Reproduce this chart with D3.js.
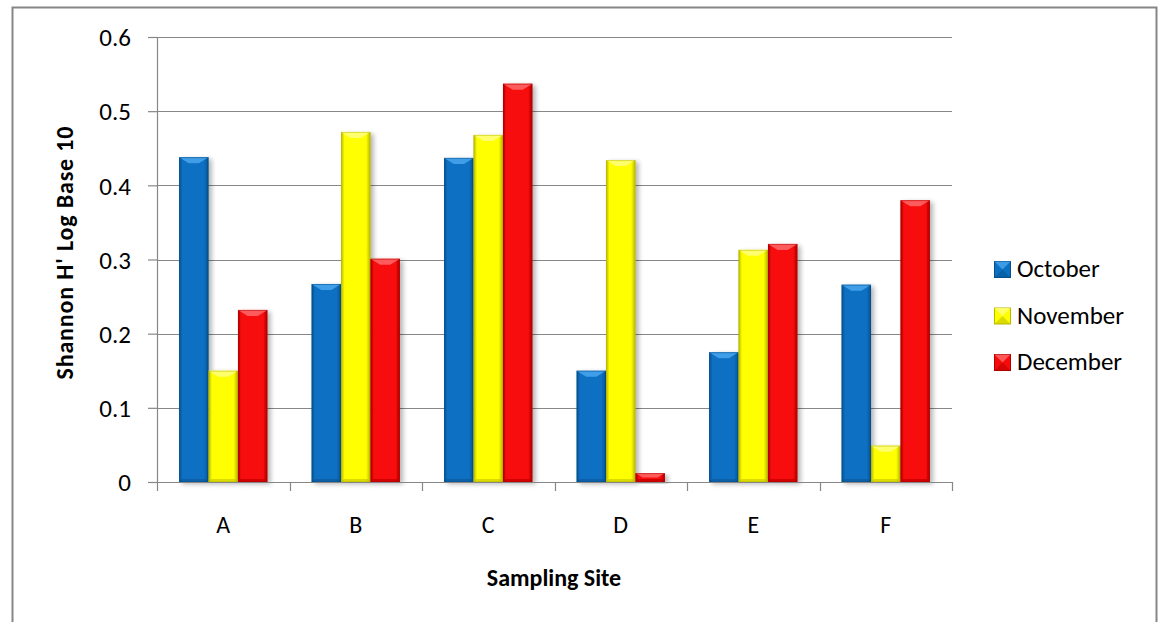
<!DOCTYPE html>
<html>
<head>
<meta charset="utf-8">
<script src="https://cdn.jsdelivr.net/npm/d3@7"></script>
<style>
  html, body { margin: 0; padding: 0; background: #fff; }
  svg { display: block; font-family: Carlito, Calibri, Lato, "Open Sans", sans-serif; }
</style>
</head>
<body>
<svg id="chart" width="1163" height="622"></svg>
<script>
// Shannon diversity (log base 10) per sampling site and month
const sites = ["A", "B", "C", "D", "E", "F"];
const months = ["October", "November", "December"];
const october  = [0.438, 0.267, 0.437, 0.150, 0.175, 0.266];
const november = [0.150, 0.472, 0.468, 0.434, 0.313, 0.049];
const december = [0.232, 0.301, 0.537, 0.012, 0.321, 0.380];
const yTicks = [0, 0.1, 0.2, 0.3, 0.4, 0.5, 0.6];
const colors = ["#0A70C2", "#FFFF00", "#F70A0A"];
const darks  = ["#064f8c", "#b8b800", "#b00000"];
const lights = ["#4aa6ee", "#ffff80", "#ff6a6a"];

const series = [october, november, december];
const FONT = "Carlito, Calibri, Lato, sans-serif";

const svg = d3.select("#chart");
const margin = { left: 157, right: 211, top: 37, bottom: 140 };
const W = 1163, H = 622;
const plotW = W - margin.left - margin.right;
const plotH = H - margin.top - margin.bottom;

// outer chart frame (left, top, right edges)
svg.append("path")
  .attr("d", `M12.5,622 L12.5,7.5 L1156.5,7.5 L1156.5,622`)
  .attr("fill", "none").attr("stroke", "#868686").attr("stroke-width", 2);

const defs = svg.append("defs");
colors.forEach((c, i) => {
  const g = defs.append("linearGradient").attr("id", "grad" + i)
    .attr("x1", "0").attr("x2", "1").attr("y1", "0").attr("y2", "0");
  g.append("stop").attr("offset", "0").attr("stop-color", darks[i]);
  g.append("stop").attr("offset", "0.12").attr("stop-color", c);
  g.append("stop").attr("offset", "0.85").attr("stop-color", c);
  g.append("stop").attr("offset", "1").attr("stop-color", darks[i]);
});
const shadow = defs.append("filter").attr("id", "shadow")
  .attr("x", "-30%").attr("y", "-10%").attr("width", "170%").attr("height", "130%");
shadow.append("feGaussianBlur").attr("in", "SourceAlpha").attr("stdDeviation", 2.5);
shadow.append("feOffset").attr("dx", 3).attr("dy", 2).attr("result", "b");
shadow.append("feComponentTransfer").append("feFuncA").attr("type", "linear").attr("slope", 0.3);
const merge = shadow.append("feMerge");
merge.append("feMergeNode");
merge.append("feMergeNode").attr("in", "SourceGraphic");

const g = svg.append("g").attr("transform", `translate(${margin.left},${margin.top})`);

const x0 = d3.scaleBand().domain(sites).range([0, plotW]).paddingInner(0).paddingOuter(0);
const bw = x0.bandwidth() / 4.5;
const x1 = d3.scaleBand().domain(months).range([0.75 * bw, x0.bandwidth() - 0.75 * bw]).padding(0);
const y = d3.scaleLinear().domain([0, 0.6]).range([plotH, 0]);

// horizontal gridlines
g.append("g").selectAll("line").data(yTicks.slice(1)).join("line")
  .attr("x1", 0).attr("x2", plotW)
  .attr("y1", d => Math.round(y(d)) + 0.5).attr("y2", d => Math.round(y(d)) + 0.5)
  .attr("stroke", "#878787").attr("stroke-width", 1.2);

// y axis
const yAxis = g.append("g").call(d3.axisLeft(y).tickValues(yTicks).tickFormat(d3.format("~g")).tickSize(9).tickPadding(17));
yAxis.select(".domain").attr("stroke", "#878787").attr("stroke-width", 1.2).attr("d", `M0.5,${plotH}V0`);
yAxis.selectAll(".tick line").attr("stroke", "#878787").attr("stroke-width", 1.2);
yAxis.selectAll(".tick text").attr("font-size", 25).attr("fill", "#000")
  .attr("font-family", FONT).attr("dy", "0.35em");

// bars
const groups = g.append("g").selectAll("g").data(sites).join("g")
  .attr("transform", d => `translate(${x0(d)},0)`);
groups.each(function (site, si) {
  const grp = d3.select(this);
  months.forEach((m, mi) => {
    const v = series[mi][si];
    const bx = x1(m), bwid = x1.bandwidth(), by = y(v), bh = plotH - y(v);
    const bar = grp.append("g").attr("filter", "url(#shadow)");
    bar.append("rect").attr("x", bx).attr("y", by).attr("width", bwid).attr("height", bh)
      .attr("fill", `url(#grad${mi})`);
    const bev = Math.min(6, bh / 2);
    // bevelled top edge
    bar.append("path")
      .attr("d", `M${bx},${by} L${bx + bwid},${by} L${bx + bwid - bev * 1.6},${by + bev} L${bx + bev * 1.6},${by + bev} Z`)
      .attr("fill", lights[mi]).attr("opacity", 0.85);
    // bevelled bottom edge
    bar.append("path")
      .attr("d", `M${bx},${by + bh} L${bx + bwid},${by + bh} L${bx + bwid - 3},${by + bh - 3} L${bx + 3},${by + bh - 3} Z`)
      .attr("fill", darks[mi]).attr("opacity", 0.5);
    bar.append("rect").attr("x", bx + 0.5).attr("y", by + 0.5).attr("width", bwid - 1).attr("height", Math.max(0, bh - 1))
      .attr("fill", "none").attr("stroke", darks[mi]).attr("stroke-opacity", 0.5).attr("stroke-width", 1);
  });
});

// x axis
const xAxisG = g.append("g").attr("transform", `translate(0,${plotH})`);
xAxisG.append("line").attr("x1", 0).attr("x2", plotW).attr("y1", 0.5).attr("y2", 0.5)
  .attr("stroke", "#878787").attr("stroke-width", 1.2);
xAxisG.selectAll("line.tk").data(d3.range(sites.length + 1)).join("line").attr("class", "tk")
  .attr("x1", i => Math.round(i * x0.step()) + 0.5).attr("x2", i => Math.round(i * x0.step()) + 0.5)
  .attr("y1", 0).attr("y2", 9).attr("stroke", "#878787").attr("stroke-width", 1.2);
xAxisG.selectAll("text").data(sites).join("text")
  .attr("x", d => x0(d) + x0.bandwidth() / 2).attr("y", 51)
  .attr("text-anchor", "middle").attr("font-size", 24).attr("fill", "#000")
  .text(d => d);

// axis titles
svg.append("text").attr("transform", "translate(73,253) rotate(-90)")
  .attr("text-anchor", "middle").attr("font-size", 24).attr("font-weight", "bold")
  .attr("textLength", 253).attr("lengthAdjust", "spacing")
  .text("Shannon H' Log Base 10");
svg.append("text").attr("x", 554).attr("y", 586)
  .attr("text-anchor", "middle").attr("font-size", 24).attr("font-weight", "bold")
  .text("Sampling Site");

// legend
const legend = svg.append("g").attr("transform", "translate(994,261)");
months.forEach((m, i) => {
  const row = legend.append("g").attr("transform", `translate(0,${i * 46.5})`);
  row.append("rect").attr("x", 0.5).attr("y", 0.5).attr("width", 16).attr("height", 16)
    .attr("fill", colors[i]).attr("stroke", darks[i]).attr("stroke-width", 1);
  row.append("path").attr("d", "M0.5,0.5 L16.5,0.5 L8.5,8.5 Z").attr("fill", lights[i]).attr("opacity", 0.8);
  row.append("path").attr("d", "M0.5,16.5 L16.5,16.5 L8.5,8.5 Z").attr("fill", darks[i]).attr("opacity", 0.5);
  row.append("text").attr("x", 23).attr("y", 16).attr("font-size", 25).attr("fill", "#000").text(m);
});
</script>
</body>
</html>
